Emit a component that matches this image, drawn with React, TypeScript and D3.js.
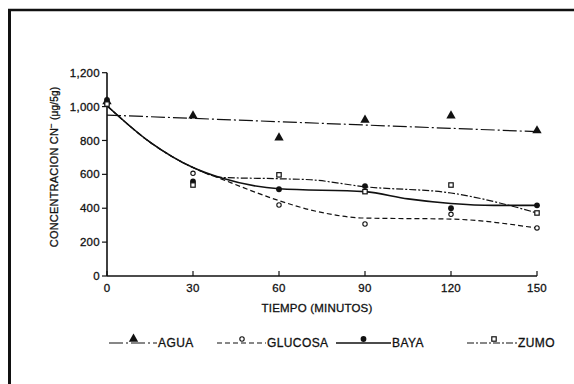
import React from "react";
import * as d3 from "d3";

// measured times (minutes)
const times = [0, 30, 60, 90, 120, 150];

// point values, ug CN- / 5g
const agua = [1030, 946, 816, 921, 946, 858];
const glucosa = [1020, 606, 419, 307, 364, 284];
const baya = [1040, 558, 512, 531, 400, 417];
const zumo = [1015, 537, 597, 498, 537, 372];

// fitted curves
const aguaFitT = [0, 150];
const aguaFit = [950, 852];
const glucosaFitT = [0, 15, 30, 40, 60, 71, 90, 120, 150];
const glucosaFit = [1005, 790, 640, 572, 445, 390, 342, 336, 283];
const bayaFitT = [0, 15, 30, 40, 60, 90, 105, 120, 135, 150];
const bayaFit = [1005, 790, 640, 578, 515, 498, 455, 428, 417, 417];
const zumoFitT = [0, 15, 30, 40, 60, 71, 90, 120, 137, 150];
const zumoFit = [1005, 790, 640, 582, 574, 568, 527, 490, 431, 372];

const xTicks = [0, 30, 60, 90, 120, 150];
const yTicks = [0, 200, 400, 600, 800, 1000, 1200];

const font = "'Liberation Sans', Arial, Helvetica, sans-serif";
const ink = "#111";

export default function App() {
  const x = d3.scaleLinear().domain([0, 150]).range([107, 537]);
  const y = d3.scaleLinear().domain([0, 1200]).range([276, 72.7]);
  const fmt = d3.format(",");

  const line = d3
    .line<[number, number]>()
    .x((d) => x(d[0]))
    .y((d) => y(d[1]))
    .curve(d3.curveMonotoneX);

  const zip = (t: number[], v: number[]) =>
    t.map((d, i) => [d, v[i]] as [number, number]);

  const tri = d3.symbol().type(d3.symbolTriangle).size(38)();
  const sq = (cx: number, cy: number) => (
    <rect x={cx - 2.2} y={cy - 2.2} width={4.4} height={4.4} fill="#fff" stroke={ink} strokeWidth={1.2} />
  );

  const series = [
    { name: "AGUA", fitT: aguaFitT, fit: aguaFit, dash: "14,3,2,3", width: 1.2 },
    { name: "GLUCOSA", fitT: glucosaFitT, fit: glucosaFit, dash: "5,3", width: 1.2 },
    { name: "BAYA", fitT: bayaFitT, fit: bayaFit, dash: "", width: 1.6 },
    { name: "ZUMO", fitT: zumoFitT, fit: zumoFit, dash: "7,2,2,2", width: 1.2 },
  ];

  const marker = (name: string, cx: number, cy: number, key?: string | number) => {
    if (name === "AGUA")
      return <path key={key} d={tri!} transform={`translate(${cx},${cy})`} fill={ink} />;
    if (name === "GLUCOSA")
      return <circle key={key} cx={cx} cy={cy} r={2.2} fill="#fff" stroke={ink} strokeWidth={1.1} />;
    if (name === "BAYA")
      return <circle key={key} cx={cx} cy={cy} r={2.9} fill={ink} />;
    return <g key={key}>{sq(cx, cy)}</g>;
  };

  const values: Record<string, number[]> = {
    AGUA: agua,
    GLUCOSA: glucosa,
    BAYA: baya,
    ZUMO: zumo,
  };

  const legend = [
    { name: "AGUA", x0: 109, x1: 157, mx: 133.5 },
    { name: "GLUCOSA", x0: 217, x1: 266, mx: 242 },
    { name: "BAYA", x0: 336, x1: 391, mx: 363.5 },
    { name: "ZUMO", x0: 467, x1: 517, mx: 494 },
  ];
  const legendY = 343;
  const textStyle = { stroke: ink, strokeWidth: 0.3 };

  return (
    <svg
      width={574}
      height={384}
      style={{ position: "absolute", left: 0, top: 0, background: "#fff" }}
      fontFamily={font}
    >
      {/* frame */}
      <line x1={9.5} y1={9} x2={9.5} y2={384} stroke={ink} strokeWidth={3} />
      <line x1={8} y1={10} x2={574} y2={10} stroke={ink} strokeWidth={2.5} />

      {/* axes */}
      <line x1={x(0)} y1={y(0)} x2={x(0)} y2={y(1200)} stroke={ink} strokeWidth={1.6} />
      <line x1={x(0)} y1={y(0)} x2={x(150)} y2={y(0)} stroke={ink} strokeWidth={1.6} />
      {yTicks.map((t) => (
        <g key={t}>
          <line x1={x(0) - 5} x2={x(0)} y1={y(t)} y2={y(t)} stroke={ink} strokeWidth={1.2} />
          <text
            x={x(0) - 7}
            y={y(t)}
            dy="0.36em"
            textAnchor="end"
            fontSize={11.5}
            letterSpacing={0.3}
            fill={ink}
            style={textStyle}
          >
            {fmt(t)}
          </text>
        </g>
      ))}
      {xTicks.map((t) => (
        <g key={t}>
          <line x1={x(t)} x2={x(t)} y1={y(0)} y2={y(0) - 5} stroke={ink} strokeWidth={1.2} />
          <text x={x(t)} y={292} textAnchor="middle" fontSize={11.5} letterSpacing={0.3} fill={ink} style={textStyle}>
            {t}
          </text>
        </g>
      ))}
      <text x={317} y={312} textAnchor="middle" fontSize={11.5} letterSpacing={0.2} fill={ink} style={textStyle}>
        TIEMPO (MINUTOS)
      </text>
      <text
        transform="translate(58,167) rotate(-90)"
        textAnchor="middle"
        fontSize={11}
        letterSpacing={0.2}
        fill={ink}
        style={textStyle}
      >
        CONCENTRACION CN
        <tspan fontSize={8} dy={-4}>−</tspan>
        <tspan fontSize={10} dy={4}> (μg/5g)</tspan>
      </text>

      {/* fitted curves */}
      {series.map((s) => (
        <path
          key={s.name}
          d={line(zip(s.fitT, s.fit)) || ""}
          fill="none"
          stroke={ink}
          strokeWidth={s.width}
          strokeDasharray={s.dash || undefined}
        />
      ))}

      {/* measured points */}
      {series.map((s) =>
        values[s.name].map((v, i) => marker(s.name, x(times[i]), y(v), `${s.name}-${i}`))
      )}

      {/* legend */}
      {legend.map((l) => {
        const s = series.find((d) => d.name === l.name)!;
        return (
          <g key={l.name}>
            <line
              x1={l.x0}
              x2={l.x1}
              y1={legendY}
              y2={legendY}
              stroke={ink}
              strokeWidth={s.width}
              strokeDasharray={s.dash || undefined}
            />
            {marker(l.name, l.mx, legendY - 4)}
            <text x={l.x1 + 1} y={legendY + 4} fontSize={12} letterSpacing={0.4} fill={ink} style={textStyle}>
              {l.name}
            </text>
          </g>
        );
      })}
    </svg>
  );
}
